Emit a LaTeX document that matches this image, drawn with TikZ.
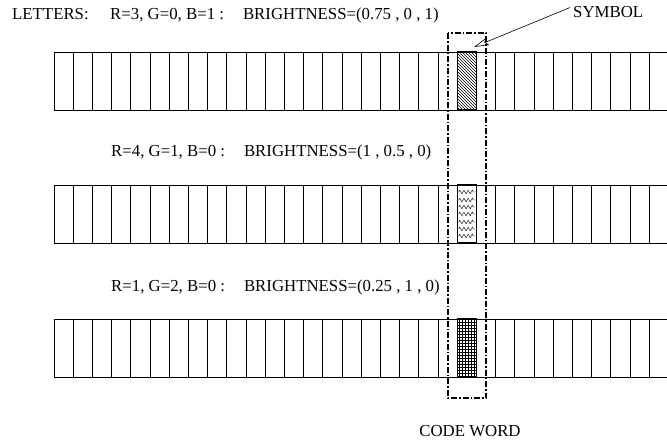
\documentclass[tikz,border=0pt]{standalone}
\usepackage{fontspec}
\setmainfont{Liberation Serif}
\usetikzlibrary{patterns,arrows.meta,decorations.pathmorphing}

\begin{document}
\begin{tikzpicture}[x=1pt,y=-1pt,font=\fontsize{16.8}{19}\selectfont]
    \useasboundingbox (0,0) rectangle (667,445);

    % Strips of cells
    \foreach \r/\t in {1/52,2/185,3/319}{
    \draw[line width=0.8pt] (54,\t) -- (667,\t);
    \draw[line width=0.8pt] (54,\t+58) -- (667,\t+58);
    \foreach \k in {0,...,31}{
    \draw[line width=0.8pt] ({54+19.2*\k},\t) -- ({54+19.2*\k},\t+58);
    }
    \coordinate (C\r) at (457.2,\t);
    }

    % Symbols
    \draw[line width=1.4pt,pattern=north west lines] (C1) rectangle ++(19.2,58);
    \draw[line width=1.4pt] (C2) rectangle ++(19.2,58);
    \foreach \y in {7,15,22,29,37,44,51}{
    \draw[line width=0.4pt,decorate,decoration={zigzag,segment length=4.2pt,amplitude=1.8pt}]
        ([xshift=1.5pt,yshift=-\y pt]C2) -- ++(16.2,0);
    }
    \draw[line width=1.4pt,pattern=grid] (C3) rectangle ++(19.2,58);

    % Code word
    \draw[line width=2.6pt,dash pattern=on 6pt off 2pt on 1.5pt off 2pt] (448,33) rectangle (486,398);

    \node[anchor=base west,inner sep=0] (letters) at (12,19) {LETTERS:};
    \node[anchor=base west,inner sep=0] (row1) at (110,19) {R=3, G=0, B=1 :\hspace{19pt}BRIGHTNESS=(0.75 , 0 , 1)};
    \node[anchor=base west,inner sep=0] (row2) at (111,156) {R=4, G=1, B=0 :\hspace{19pt}BRIGHTNESS=(1 , 0.5 , 0)};
    \node[anchor=base west,inner sep=0] (row3) at (111,291) {R=1, G=2, B=0 :\hspace{19pt}BRIGHTNESS=(0.25 , 1 , 0)};
    \node[anchor=base west,inner sep=0] (symbol) at (573,17) {SYMBOL};
    \node[anchor=base,inner sep=0] (codeword) at (470,436) {CODE WORD};

    \coordinate (tip) at (474,47);
    \draw[line width=0.6pt,-{Stealth[open,length=15pt,width=8pt,inset=3pt]}] ([xshift=-3pt,yshift=4pt]symbol.west) -- (tip);
\end{tikzpicture}
\end{document}
